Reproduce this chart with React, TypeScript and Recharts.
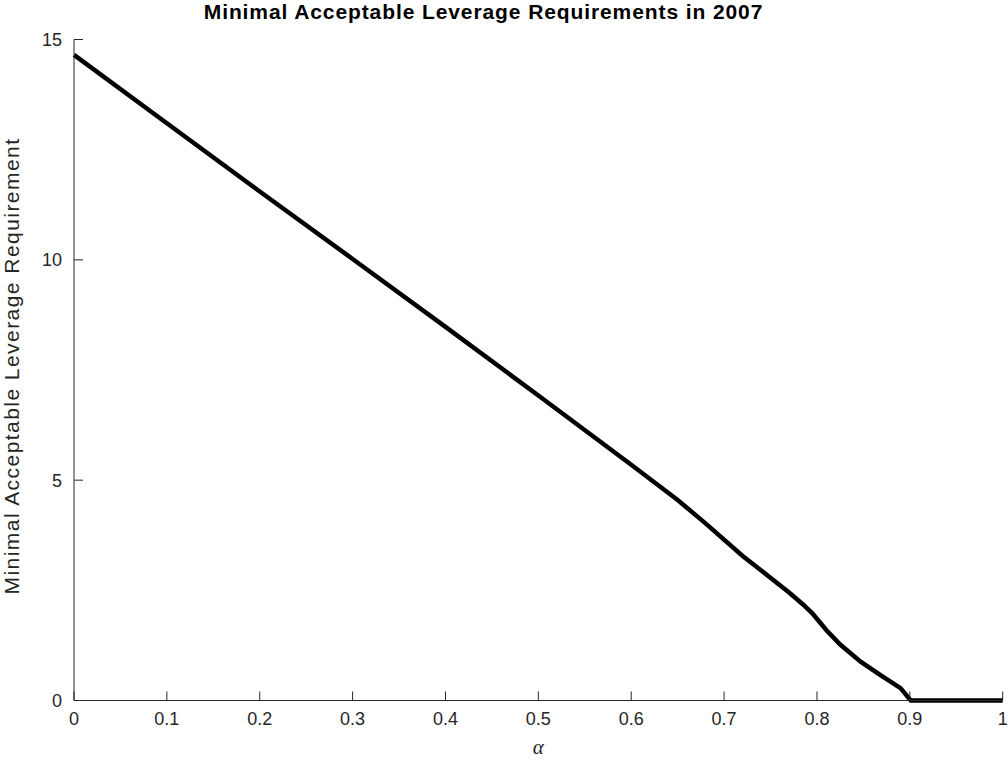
import { Line, LineChart, XAxis, YAxis } from 'recharts';

// alpha grid and the leverage requirement read at each point
const alphaValues = [0, 0.1, 0.2, 0.3, 0.4, 0.5, 0.6, 0.65, 0.68, 0.72, 0.74, 0.77, 0.785, 0.795, 0.81, 0.825, 0.847, 0.868, 0.89, 0.901, 0.95, 1];
const leverageValues = [14.65, 13.1, 11.55, 10.02, 8.48, 6.92, 5.35, 4.55, 4.02, 3.28, 2.95, 2.45, 2.18, 1.98, 1.6, 1.27, 0.88, 0.58, 0.28, 0, 0, 0];

const xTicks = [0, 0.1, 0.2, 0.3, 0.4, 0.5, 0.6, 0.7, 0.8, 0.9, 1];
const yTicks = [0, 5, 10, 15];

const title = 'Minimal Acceptable Leverage Requirements in 2007';
const yLabel = 'Minimal Acceptable Leverage Requirement';
const xLabel = 'α';

const data = alphaValues.map((a, i) => ({ alpha: a, leverage: leverageValues[i] }));

const axisColor = '#262626';
const sans = '"Liberation Sans", Arial, sans-serif';

export default function App() {
  return (
    <div style={{ position: 'relative', width: 1008, height: 761, background: '#fff' }}>
      {/* drop the default body margin so the figure fills the page */}
      <style>{'html, body { margin: 0; padding: 0; background: #fff; }'}</style>
      <div
        style={{
          position: 'absolute', left: 0, top: 0, width: 967, textAlign: 'center',
          fontFamily: sans, fontWeight: 'bold', fontSize: 21, lineHeight: '24px',
          letterSpacing: 0.9, color: '#000', whiteSpace: 'nowrap',
        }}
      >
        {title}
      </div>
      <LineChart width={1008} height={761} data={data} margin={{ top: 39.5, right: 5.3, bottom: 0, left: 0 }}>
        <XAxis
          dataKey="alpha"
          type="number"
          domain={[0, 1]}
          ticks={xTicks}
          interval={0}
          height={60.5}
          stroke={axisColor}
          tickSize={-9}
          tickMargin={21}
          tick={{ fill: axisColor, fontSize: 18, fontFamily: sans }}
          label={{ value: xLabel, position: 'insideBottom', offset: 7, fill: axisColor, fontSize: 21, fontStyle: 'italic', fontFamily: '"Liberation Serif", serif' }}
        />
        <YAxis
          type="number"
          domain={[0, 15]}
          ticks={yTicks}
          interval={0}
          width={74}
          stroke={axisColor}
          tickSize={-9}
          tickMargin={21}
          tick={{ fill: axisColor, fontSize: 18, fontFamily: sans }}
          label={{
            content: () => (
              <text
                x={19}
                y={366}
                transform="rotate(-90, 19, 366)"
                textAnchor="middle"
                fill={axisColor}
                fontSize={21}
                letterSpacing={1.45}
                fontFamily={sans}
              >
                {yLabel}
              </text>
            ),
          }}
        />
        <Line
          dataKey="leverage"
          type="linear"
          stroke="#000"
          strokeWidth={4.5}
          dot={false}
          isAnimationActive={false}
        />
      </LineChart>
    </div>
  );
}
